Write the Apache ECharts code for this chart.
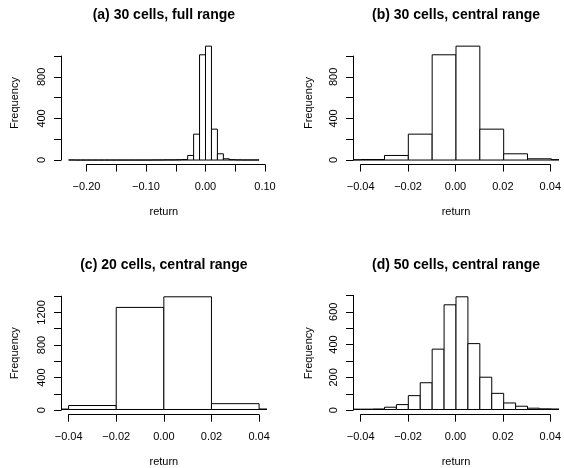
<!DOCTYPE html>
<html><head><meta charset="utf-8">
<script src="https://cdn.jsdelivr.net/npm/echarts@6/dist/echarts.min.js"></script>
<style>html,body{margin:0;padding:0;background:#fff}#c{width:564px;height:468px}</style>
</head><body><div id="c"></div>
<script>
// ---------- DATA ----------
// 30-cell histogram (bin width 0.01), used for panels (a) and (b)
const edgesAB = [-0.23,-0.22,-0.21,-0.20,-0.19,-0.18,-0.17,-0.16,-0.15,-0.14,-0.13,-0.12,-0.11,-0.10,
  -0.09,-0.08,-0.07,-0.06,-0.05,-0.04,-0.03,-0.02,-0.01,0.00,0.01,0.02,0.03,0.04,0.05,0.06,0.07,0.08,0.09];
const countsAB = [1,0,0,0,0,0,0,0,0,0,0,0,0,0,
  1,1,2,2,3,5,44,249,1012,1095,297,60,12,4,2,1,1,1];
// 20-cell histogram (bin width 0.02), panel (c)
const edgesC = [-0.24,-0.22,-0.20,-0.18,-0.16,-0.14,-0.12,-0.10,-0.08,-0.06,-0.04,-0.02,0.00,0.02,0.04,0.06,0.08,0.10];
const countsC = [1,0,0,0,0,0,0,1,3,5,49,1261,1392,72,6,2,1];
// 50-cell histogram (bin width 0.005), panel (d), central part
const edgesD = [-0.045,-0.04,-0.035,-0.03,-0.025,-0.02,-0.015,-0.01,-0.005,0.00,0.005,0.01,0.015,0.02,0.025,0.03,0.035,0.04,0.045];
const countsD = [2,2,3,14,30,85,164,370,642,691,404,198,99,40,20,8,4,3];

// tick values and labels
const xTicksFull = [-0.20,-0.15,-0.10,-0.05,0.00,0.05,0.10];
const xLabelsFull = ['\u22120.20','','\u22120.10','','0.00','','0.10'];
const xTicksCentral = [-0.04,-0.02,0.00,0.02,0.04];
const xLabelsCentral = ['\u22120.04','\u22120.02','0.00','0.02','0.04'];
const yTicksAB = [0,200,400,600,800,1000];
const yLabelsAB = ['0','','400','','800',''];
const yTicksC = [0,200,400,600,800,1000,1200,1400];
const yLabelsC = ['0','','400','','800','','1200',''];
const yTicksD = [0,100,200,300,400,500,600,700];
const yLabelsD = ['0','','200','','400','','600',''];

const titles = ['(a) 30 cells, full range','(b) 30 cells, central range','(c) 20 cells, central range','(d) 50 cells, central range'];
const xLabelText = 'return';
const yLabelText = 'Frequency';
const centralRange = [-0.04, 0.04];

// ---------- LAYOUT ----------
const FONT = '"Liberation Sans", Arial, Helvetica, sans-serif';
const panels = [
  {title:titles[0], edges:edgesAB, counts:countsAB, xlim:[edgesAB[0], edgesAB[edgesAB.length-1]],
   xt:xTicksFull, xl:xLabelsFull, yt:yTicksAB, yl:yLabelsAB,
   box:{l:61, t:41.6, w:205.7, h:123}, titleY:15, yNameGap:41},
  {title:titles[1], edges:edgesAB, counts:countsAB, xlim:centralRange,
   xt:xTicksCentral, xl:xLabelsCentral, yt:yTicksAB, yl:yLabelsAB,
   box:{l:353, t:41.6, w:206, h:123}, titleY:15, yNameGap:39},
  {title:titles[2], edges:edgesC, counts:countsC, xlim:centralRange,
   xt:xTicksCentral, xl:xLabelsCentral, yt:yTicksC, yl:yLabelsC,
   box:{l:61, t:292.3, w:205.7, h:122.4}, titleY:265, yNameGap:41},
  {title:titles[3], edges:edgesD, counts:countsD, xlim:centralRange,
   xt:xTicksCentral, xl:xLabelsCentral, yt:yTicksD, yl:yLabelsD,
   box:{l:353, t:292.3, w:206, h:122.4}, titleY:265, yNameGap:39}
];

function lookup(ticks, labels, v){
  for (let i=0;i<ticks.length;i++) if (Math.abs(ticks[i]-v) < 1e-9) return labels[i];
  return '';
}
function renderBar(params, api){
  const p0 = api.coord([api.value(0), 0]);
  const p1 = api.coord([api.value(1), api.value(2)]);
  return {type:'rect', shape:{x:p0[0], y:p1[1], width:p1[0]-p0[0], height:p0[1]-p1[1]},
    style:{fill:'#fff', stroke:'#000', lineWidth:1}};
}

const grids=[], xAxes=[], yAxes=[], series=[], graphics=[];
const txt = {color:'#000', fontSize:11, fontFamily:FONT};
panels.forEach(p=>{
  const b = p.box;
  const dx = (p.xlim[1]-p.xlim[0])*0.04;
  const xmin = p.xlim[0]-dx, xmax = p.xlim[1]+dx;
  const cmax = Math.max(...p.counts);
  const ymin = -cmax*0.04, ymax = cmax*1.04;
  const px = v => b.l + (v-xmin)/(xmax-xmin)*b.w;
  const py = v => b.t + (ymax-v)/(ymax-ymin)*b.h;

  // plot region
  let gi = grids.length;
  grids.push({left:b.l, top:b.t, width:b.w, height:b.h});
  xAxes.push({gridIndex:gi, type:'value', min:xmin, max:xmax,
    axisLine:{show:false}, axisTick:{show:false}, axisLabel:{show:false}, splitLine:{show:false},
    name:xLabelText, nameLocation:'middle', nameGap:42, nameTextStyle:txt});
  yAxes.push({gridIndex:gi, type:'value', min:ymin, max:ymax,
    axisLine:{show:false}, axisTick:{show:false}, axisLabel:{show:false}, splitLine:{show:false},
    name:yLabelText, nameLocation:'middle', nameRotate:90, nameGap:p.yNameGap, nameTextStyle:txt});
  series.push({type:'custom', xAxisIndex:gi, yAxisIndex:gi, clip:true, silent:true,
    data:p.counts.map((c,i)=>[p.edges[i], p.edges[i+1], c]), renderItem:renderBar});

  // x axis (spans ticks only)
  const xt = p.xt;
  gi = grids.length;
  grids.push({left:px(xt[0]), width:px(xt[xt.length-1])-px(xt[0]), top:b.t+b.h-10, height:10});
  xAxes.push({gridIndex:gi, type:'value', min:xt[0], max:xt[xt.length-1], interval:xt[1]-xt[0],
    axisLine:{show:true, onZero:false, lineStyle:{color:'#000', width:1}},
    axisTick:{show:true, length:7, lineStyle:{color:'#000', width:1}},
    axisLabel:{margin:17, formatter:(v)=>lookup(xt,p.xl,v), ...txt, showMinLabel:true, showMaxLabel:true},
    splitLine:{show:false}});
  yAxes.push({gridIndex:gi, type:'value', show:false, min:0, max:1});

  // y axis (spans ticks only)
  const yt = p.yt;
  gi = grids.length;
  grids.push({left:b.l, width:10, top:py(yt[yt.length-1]), height:py(yt[0])-py(yt[yt.length-1])});
  xAxes.push({gridIndex:gi, type:'value', show:false, min:0, max:1});
  yAxes.push({gridIndex:gi, type:'value', min:yt[0], max:yt[yt.length-1], interval:yt[1]-yt[0],
    axisLine:{show:true, onZero:false, lineStyle:{color:'#000', width:1}},
    axisTick:{show:true, length:7, lineStyle:{color:'#000', width:1}},
    axisLabel:{margin:14, rotate:90, formatter:(v)=>lookup(yt,p.yl,v), ...txt, showMinLabel:true, showMaxLabel:true},
    splitLine:{show:false}});

  graphics.push({type:'text', x:b.l+b.w/2, y:p.titleY,
    style:{text:p.title, fill:'#000', font:'bold 14px '+FONT, textAlign:'center', textVerticalAlign:'middle'}});
});

const chart = echarts.init(document.getElementById('c'));
chart.setOption({animation:false, backgroundColor:'#fff',
  grid:grids, xAxis:xAxes, yAxis:yAxes, series:series, graphic:graphics});
</script></body></html>
